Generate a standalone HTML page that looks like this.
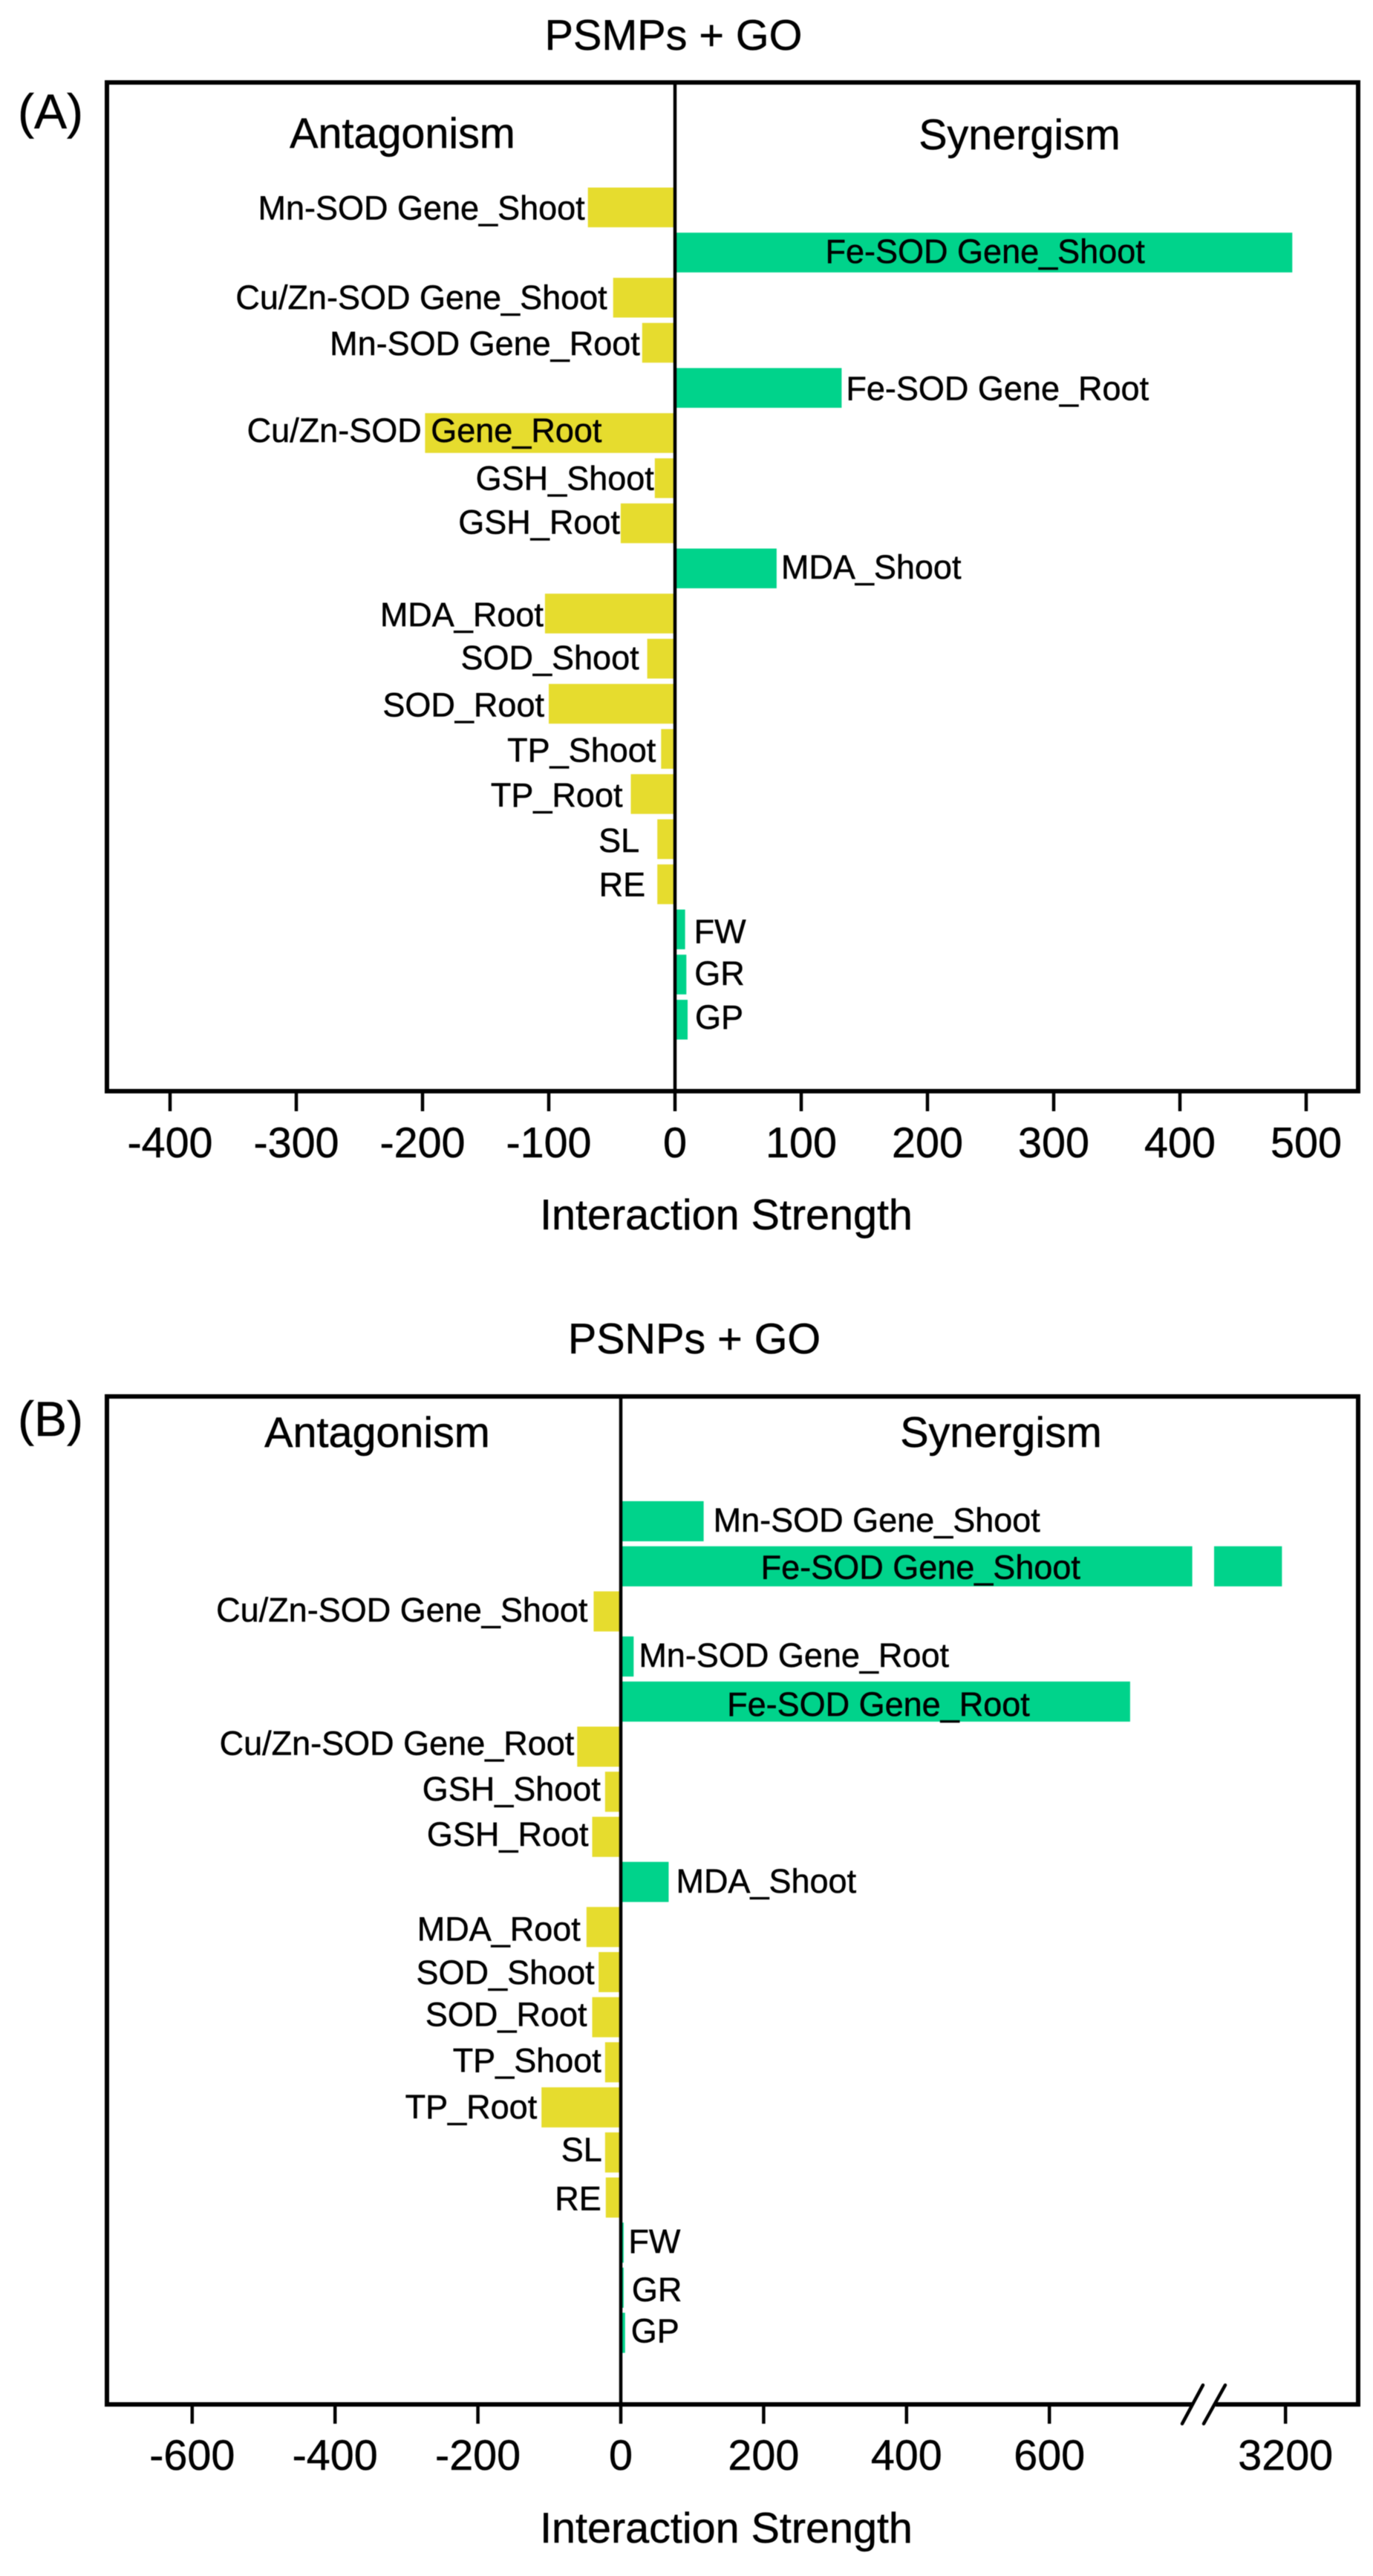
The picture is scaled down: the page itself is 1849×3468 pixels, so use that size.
<!DOCTYPE html>
<html lang="en">
<head>
<meta charset="utf-8">
<title>Interaction Strength: PSMPs + GO and PSNPs + GO</title>
<style>
html,body{margin:0;padding:0;background:#fff;}
svg{display:block;filter:blur(0.6px);}
text{font-family:"Liberation Sans",Arial,sans-serif;fill:#000;stroke:#000;stroke-width:0.5px;}
.lbl{font-size:45px;}
.big{font-size:57.5px;}
.panel{font-size:66px;}
.frame{stroke:#000;stroke-width:6;fill:none;stroke-linecap:square;}
.zero{stroke:#000;stroke-width:4.5;}
.tick{stroke:#000;stroke-width:4.5;}
</style>
</head>
<body>
<svg id="figure" xmlns="http://www.w3.org/2000/svg" width="1849" height="3468" viewBox="0 0 1849 3468">
  <rect x="0" y="0" width="1849" height="3468" fill="#fff"/>

  <g id="panelA">
    <text class="big" x="907" y="67" text-anchor="middle">PSMPs + GO</text>
    <text class="panel" x="24" y="173">(A)</text>
    <path class="frame" d="M144 111H1829V1469H144Z"/>
    <text class="big" x="542" y="199" text-anchor="middle">Antagonism</text>
    <text class="big" x="1373" y="201" text-anchor="middle">Synergism</text>
    <g id="barsA"></g>
    <line class="zero" x1="909" y1="111" x2="909" y2="1469"/>
    <g id="labelsA"></g>
    <g id="ticksA"></g>
    <text class="big" x="978" y="1655" text-anchor="middle">Interaction Strength</text>
  </g>

  <g id="panelB">
    <text class="big" x="935" y="1822" text-anchor="middle">PSNPs + GO</text>
    <text class="panel" x="24" y="1933">(B)</text>
    <path class="frame" d="M1603 3237H144V1880H1829V3237H1640"/>
    <text class="big" x="508" y="1948" text-anchor="middle">Antagonism</text>
    <text class="big" x="1348" y="1948" text-anchor="middle">Synergism</text>
    <g id="barsB"></g>
    <line class="zero" x1="836" y1="1880" x2="836" y2="3237"/>
    <g id="labelsB"></g>
    <g id="ticksB"></g>
    <line class="tick" stroke-linecap="round" x1="1620" y1="3211" x2="1592" y2="3263"/>
    <line class="tick" stroke-linecap="round" x1="1650" y1="3211" x2="1621" y2="3263"/>
    <text class="big" x="978" y="3423" text-anchor="middle">Interaction Strength</text>
  </g>
</svg>

<script>
// ---- data ----
const categories = ["Mn-SOD Gene_Shoot","Fe-SOD Gene_Shoot","Cu/Zn-SOD Gene_Shoot","Mn-SOD Gene_Root","Fe-SOD Gene_Root","Cu/Zn-SOD Gene_Root","GSH_Shoot","GSH_Root","MDA_Shoot","MDA_Root","SOD_Shoot","SOD_Root","TP_Shoot","TP_Root","SL","RE","FW","GR","GP"];
const valuesA = [-69,489,-49,-26,132,-198,-16,-43,80.5,-103,-22,-100,-11,-35,-14,-14,8,9,10];
const valuesB = [116,3195,-38,18,713,-61,-22,-40,67,-48,-31,-40,-22,-111,-22,-21,4,4,6];
const ticksA = [-400,-300,-200,-100,0,100,200,300,400,500];
const ticksB = [-600,-400,-200,0,200,400,600,3200];

// ---- layout ----
const SVGNS = "http://www.w3.org/2000/svg";
const YELLOW = "#e6dc2e", GREEN = "#00d38b";
const layoutA = {firstBarTop:252.5, step:60.75, barH:53.5, tickTop:1469, tickBottom:1496, tickBase:1558};
const layoutB = {firstBarTop:2021, step:60.7, barH:54, tickTop:3237, tickBottom:3263, tickBase:3325};
function xA(v){ return 909 + v*1.7; }
// Panel B uses a broken axis: lower segment to 800, upper segment from 3100.
const BREAK_LOW = 800, BREAK_HIGH = 3100;
function xB(v){ return v <= BREAK_LOW ? 836 + v*0.962 : 1635 + (v-BREAK_HIGH)*0.962; }

// gap between bar end and label text (hand placement of the original figure)
const gapsA = [4,0,8,3,6,-238,1,1,6,2,11,6,7,11,24,16,12,11,10];
const dyA = [16,14,15,16.5,16,12,15.5,14,13.5,17,14,17,17,17,17,16,18,14,12];
const gapsB = [13,0,8,7,0,4,6,5,10,8,5.5,7,5,6,4,6,6.5,11,8];
const dyB = [14,17,13.5,14,19,11,12,12,14.5,18,16,12,13,15,11.5,17,14,18,13];
const centeredA = ["Fe-SOD Gene_Shoot"];
const centeredB = ["Fe-SOD Gene_Shoot","Fe-SOD Gene_Root"];
const centerShiftA = {"Fe-SOD Gene_Shoot":2};
const centerShiftB = {"Fe-SOD Gene_Shoot":19,"Fe-SOD Gene_Root":4};

function mk(parent, tag, attrs){
  const el = document.createElementNS(SVGNS, tag);
  for (const k in attrs) el.setAttribute(k, attrs[k]);
  parent.appendChild(el);
  return el;
}
function slug(s){ return s.toLowerCase().replace(/[^a-z0-9]+/g,'-'); }

function drawBar(g, x1, x2, y, h, color, name){
  const el = mk(g, "rect", {x:x1, y:y, width:Math.max(0,x2-x1), height:h, fill:color});
  
  
}

function drawPanel(prefix, values, xFn, lay, gaps, dys, centered, shifts, barsG, labelsG){
  values.forEach(function(v, i){
    const y = lay.firstBarTop + i*lay.step;
    const name = categories[i];
    const zero = xFn(0);
    const barName = prefix + '-bar-' + slug(name);
    let lowEnd;
    if (v >= 0) {
      if (v > BREAK_LOW && xFn === xB) {
        lowEnd = xB(BREAK_LOW);
        drawBar(barsG, zero+2, lowEnd, y, lay.barH, GREEN, barName);
        drawBar(barsG, xB(BREAK_HIGH), xB(v), y, lay.barH, GREEN, barName + '-upper');
      } else {
        lowEnd = xFn(v);
        drawBar(barsG, zero+2, lowEnd, y, lay.barH, GREEN, barName);
      }
    } else {
      lowEnd = xFn(v);
      drawBar(barsG, lowEnd, zero-2, y, lay.barH, YELLOW, barName);
    }
    const attrs = {class:"lbl", y:y + lay.barH/2 + dys[i]};
    if (centered.indexOf(name) >= 0) {
      attrs.x = (zero + lowEnd)/2 + (shifts[name] || 0);
      attrs["text-anchor"] = "middle";
    } else if (v >= 0) {
      attrs.x = lowEnd + gaps[i];
      attrs["text-anchor"] = "start";
    } else {
      attrs.x = lowEnd - gaps[i];
      attrs["text-anchor"] = "end";
    }
    const t = mk(labelsG, "text", attrs);
    t.textContent = name;
    
    
  });
}

function drawTicks(prefix, ticks, xFn, lay, g){
  ticks.forEach(function(v){
    const x = xFn(v);
    const tick = mk(g, "line", {class:"tick", x1:x, x2:x, y1:lay.tickTop, y2:lay.tickBottom});
    
    
    const label = mk(g, "text", {class:"big", x:x, y:lay.tickBase, "text-anchor":"middle"});
    label.textContent = String(v);
    
    
  });
}

drawPanel('panel-a', valuesA, xA, layoutA, gapsA, dyA, centeredA, centerShiftA, document.getElementById('barsA'), document.getElementById('labelsA'));
drawPanel('panel-b', valuesB, xB, layoutB, gapsB, dyB, centeredB, centerShiftB, document.getElementById('barsB'), document.getElementById('labelsB'));
drawTicks('panel-a', ticksA, xA, layoutA, document.getElementById('ticksA'));
drawTicks('panel-b', ticksB, xB, layoutB, document.getElementById('ticksB'));
</script>
</body>
</html>
